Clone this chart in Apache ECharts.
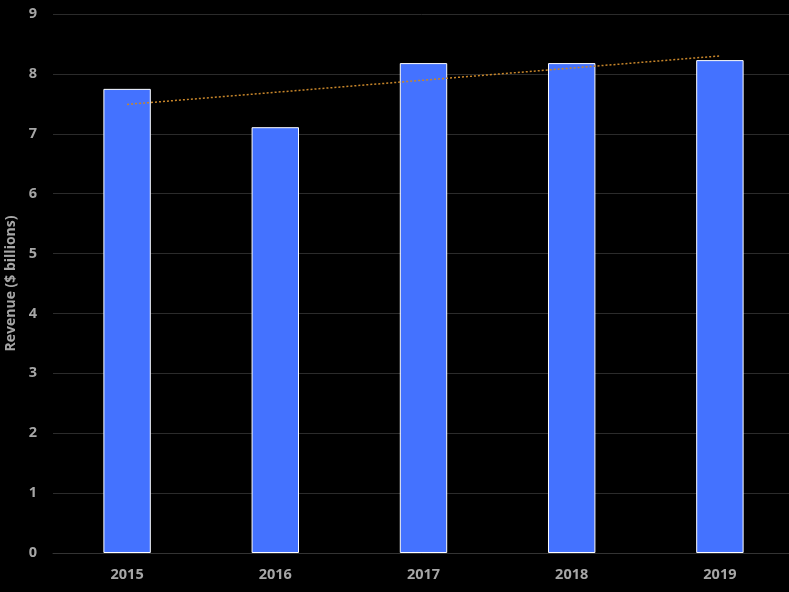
<!DOCTYPE html>
<html>
<head>
<meta charset="utf-8">
<script src="https://cdn.jsdelivr.net/npm/echarts@6/dist/echarts.min.js"></script>
<style>
 html,body{margin:0;padding:0;background:#000;}
 #main{width:789px;height:592px;}
</style>
</head>
<body>
<div id="main"></div>
<script>
var years = ['2015', '2016', '2017', '2018', '2019'];
var revenue = [7.75, 7.11, 8.18, 8.18, 8.23];
// trend line ends
var trendStart = ['2015', 7.49];
var trendEnd = ['2019', 8.30];

var myChart = echarts.init(document.getElementById('main'));
var option = {
  backgroundColor: '#000',
  animation: false,
  grid: {left: 53, width: 741, top: 14, bottom: 39, outerBoundsMode: 'none', containLabel: false},
  xAxis: {
    type: 'category',
    data: years,
    axisLine: {lineStyle: {color: '#333'}},
    axisTick: {show: false},
    axisLabel: {color: '#a6a6a6', fontWeight: 'bold', fontSize: 14.5, fontFamily: 'Open Sans', margin: 14}
  },
  yAxis: {
    type: 'value',
    min: 0,
    max: 9,
    interval: 1,
    name: 'Revenue ($ billions)',
    nameLocation: 'middle',
    nameGap: 26,
    nameTextStyle: {color: '#a6a6a6', fontWeight: 'bold', fontSize: 14, fontFamily: 'Open Sans'},
    axisLine: {show: false},
    axisTick: {show: false},
    splitLine: {lineStyle: {color: '#2b2b2b'}},
    axisLabel: {color: '#a6a6a6', fontWeight: 'bold', fontSize: 14.5, fontFamily: 'Open Sans', margin: 16}
  },
  series: [
    {
      type: 'bar',
      data: revenue,
      barWidth: '32%',
      itemStyle: {color: '#4472ff', borderColor: '#fff', borderWidth: 1}
    },
    {
      type: 'line',
      data: [trendStart, trendEnd],
      symbol: 'none',
      lineStyle: {color: '#c8862a', width: 1.5, type: [2, 2]},
      z: 5
    }
  ]
};
myChart.setOption(option);
window.onresize = myChart.resize;
</script>
</body>
</html>
